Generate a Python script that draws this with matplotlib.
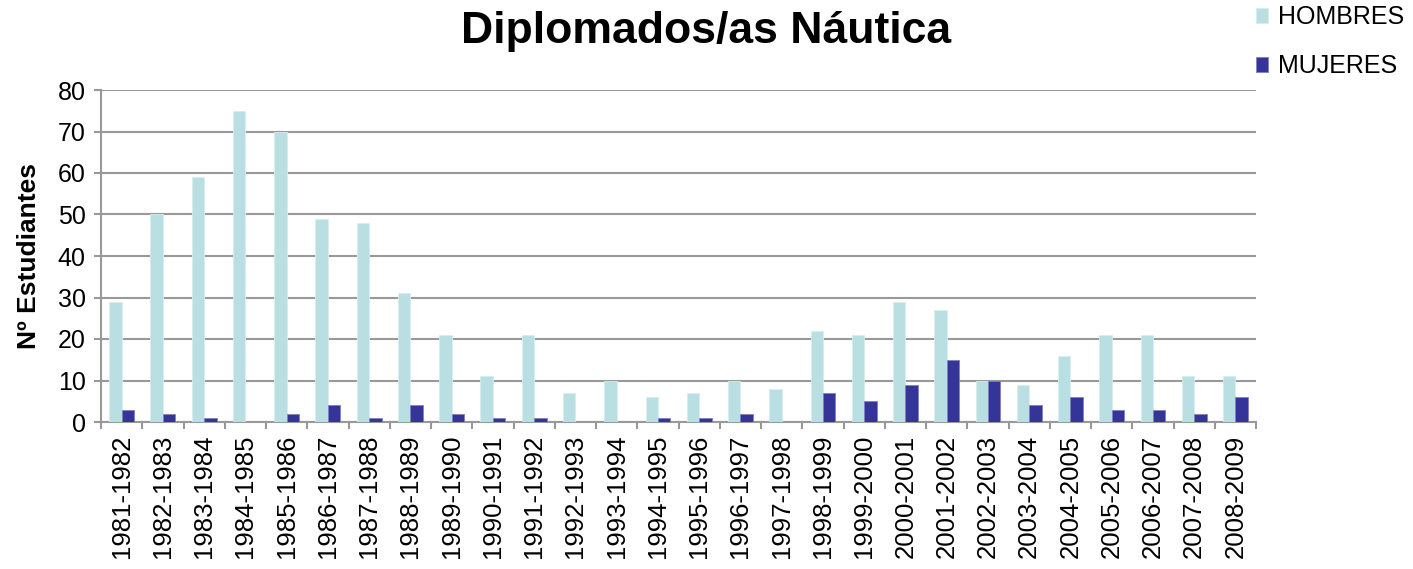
import matplotlib.pyplot as plt
import numpy as np

plt.rcParams['font.family'] = ['Liberation Sans', 'DejaVu Sans']

cursos = ['1981-1982', '1982-1983', '1983-1984', '1984-1985', '1985-1986', '1986-1987',
          '1987-1988', '1988-1989', '1989-1990', '1990-1991', '1991-1992', '1992-1993',
          '1993-1994', '1994-1995', '1995-1996', '1996-1997', '1997-1998', '1998-1999',
          '1999-2000', '2000-2001', '2001-2002', '2002-2003', '2003-2004', '2004-2005',
          '2005-2006', '2006-2007', '2007-2008', '2008-2009']
hombres = [29, 50, 59, 75, 70, 49, 48, 31, 21, 11, 21, 7, 10, 6, 7, 10, 8, 22, 21, 29,
           27, 10, 9, 16, 21, 21, 11, 11]
mujeres = [3, 2, 1, 0, 2, 4, 1, 4, 2, 1, 1, 0, 0, 1, 1, 2, 0, 7, 5, 9,
           15, 10, 4, 6, 3, 3, 2, 6]

fig = plt.figure(figsize=(14.13, 5.69), dpi=100)
ax = fig.add_axes([101 / 1413, 1 - 422 / 569, (1256 - 101) / 1413, (422 - 90) / 569])

x = np.arange(len(cursos))
w = 0.3
ax.bar(x - w / 2, hombres, w, color='#b9dfe2', edgecolor='#d6eef0', linewidth=0.6,
       label='HOMBRES', zorder=3)
ax.bar(x + w / 2, mujeres, w, color='#343499', edgecolor='#8080c0', linewidth=0.6,
       label='MUJERES', zorder=3)

ax.set_xlim(-0.5, len(cursos) - 0.5)
ax.set_ylim(0, 80)
ax.set_yticks(range(0, 81, 10))
ax.yaxis.grid(True, color='#999999', linewidth=1.5, zorder=0)
ax.set_xticks(x)
ax.set_xticklabels(cursos, rotation=90, fontsize=18.5)
ax.set_xticks(np.arange(-0.5, len(cursos), 1), minor=True)
ax.tick_params(axis='x', which='major', length=0, pad=9)
ax.tick_params(axis='x', which='minor', length=5, color='#999999', width=1.5)
ax.tick_params(axis='y', labelsize=18, length=5, color='#999999', width=1.5, pad=6)

for s in ['top', 'right']:
    ax.spines[s].set_visible(False)
for s in ['left', 'bottom']:
    ax.spines[s].set_color('#999999')
    ax.spines[s].set_linewidth(1.5)

ax.set_ylabel('Nº Estudiantes', fontsize=19, fontweight='bold', labelpad=12)
fig.text(0.5, 0.945, 'Diplomados/as Náutica', ha='center', va='center',
         fontsize=32, fontweight='bold')
fig.legend(loc='upper left', bbox_to_anchor=(1233 / 1413, 1.03), frameon=False,
           fontsize=18, handlelength=0.5, handleheight=0.5, labelspacing=1.0,
           handletextpad=0.4)

fig.savefig('out.png', dpi=100)
